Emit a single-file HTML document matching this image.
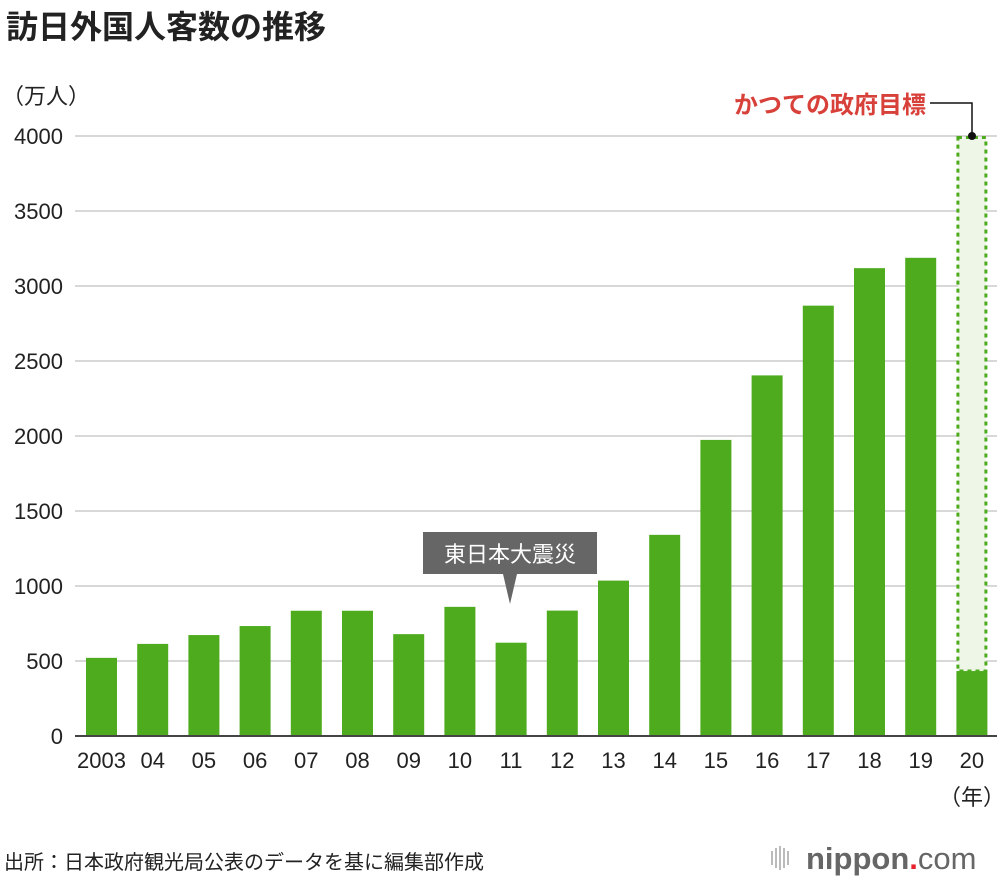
<!DOCTYPE html>
<html><head><meta charset="utf-8">
<style>
body{margin:0;background:#fff;}
svg text{font-family:"Liberation Sans","Noto Sans CJK JP",sans-serif;}
</style></head>
<body>
<svg id="chart" width="1000" height="880" viewBox="0 0 1000 880">
<text x="6" y="38" font-size="32" font-weight="bold" fill="#222">訪日外国人客数の推移</text>
<text x="2" y="104" font-size="22" fill="#222">（万人）</text>
<g id="grid"></g>
<g id="bars"></g>
<g id="xlabels"></g>
<text x="972" y="805" font-size="22" fill="#222" text-anchor="middle">（年）</text>
<g>
<rect x="423" y="532" width="174" height="42" fill="#666"/>
<polygon points="503,574 517,574 510,604" fill="#666"/>
<text x="510" y="562" font-size="22" fill="#fff" text-anchor="middle">東日本大震災</text>
</g>
<g>
<text x="926" y="113" font-size="24" font-weight="bold" fill="#d8403a" text-anchor="end">かつての政府目標</text>
<polyline points="930,103 972,103 972,136" fill="none" stroke="#111" stroke-width="1.5"/>
<circle cx="972" cy="136" r="4" fill="#111"/>
</g>
<text x="4" y="869" font-size="20" fill="#222">出所：日本政府観光局公表のデータを基に編集部作成</text>
<g>
<g fill="#bbb"><rect x="771" y="851" width="2" height="14"/><rect x="775" y="848" width="2" height="20"/><rect x="779" y="846" width="2" height="24"/><rect x="783" y="848" width="2" height="20"/><rect x="787" y="851" width="2" height="14"/></g>
<text x="806" y="869" font-size="31" fill="#666"><tspan font-weight="bold">nippon</tspan><tspan fill="#e8202a" font-weight="bold">.</tspan><tspan>com</tspan></text>
</g>
</svg>
<script>
const categories=["2003","04","05","06","07","08","09","10","11","12","13","14","15","16","17","18","19","20"];
const visitors=[521,614,673,733,835,835,679,861,622,836,1036,1341,1974,2404,2869,3119,3188,433];
const targetValue=4000;
const yTicks=[0,500,1000,1500,2000,2500,3000,3500,4000];
const NS="http://www.w3.org/2000/svg";
const y0=736,yTop=136,yMax=4000;
const y=v=>y0-(v/yMax)*(y0-yTop);
const x0=86,step=51.2,bw=31;
const x=i=>x0+i*step;
function mk(tag,attrs,parent){const e=document.createElementNS(NS,tag);for(const k in attrs)e.setAttribute(k,attrs[k]);parent.appendChild(e);return e;}
const grid=document.getElementById('grid');
yTicks.forEach(t=>{
  if(t>0){const l=mk('line',{x1:75,x2:997,y1:y(t),y2:y(t),stroke:'#ccc','stroke-width':1.5},grid);
  
  }
  const tx=mk('text',{x:63,y:y(t)+8,'font-size':22,fill:'#222','text-anchor':'end'},grid);
  tx.textContent=t;
  
  
});
const bars=document.getElementById('bars');
const last=categories.length-1;
const tb=mk('rect',{x:x(last)+1.5,y:y(targetValue)+1.5,width:bw-3,height:y(visitors[last])-y(targetValue)-1.5,fill:'#eef6e8',stroke:'#4eab1e','stroke-width':3,'stroke-dasharray':'4,4'},bars);


visitors.forEach((v,i)=>{
  const r=mk('rect',{x:x(i),y:y(v),width:bw,height:y0-y(v),fill:'#4eab1e'},bars);
  
  
});
const ax=mk('line',{x1:75,x2:997,y1:y0,y2:y0,stroke:'#444','stroke-width':2},bars);


const xl=document.getElementById('xlabels');
categories.forEach((c,i)=>{
  const t=mk('text',{x:x(i)+bw/2,y:768,'font-size':22,fill:'#222','text-anchor':'middle'},xl);
  t.textContent=c;
  
  
});
</script>
</body></html>
